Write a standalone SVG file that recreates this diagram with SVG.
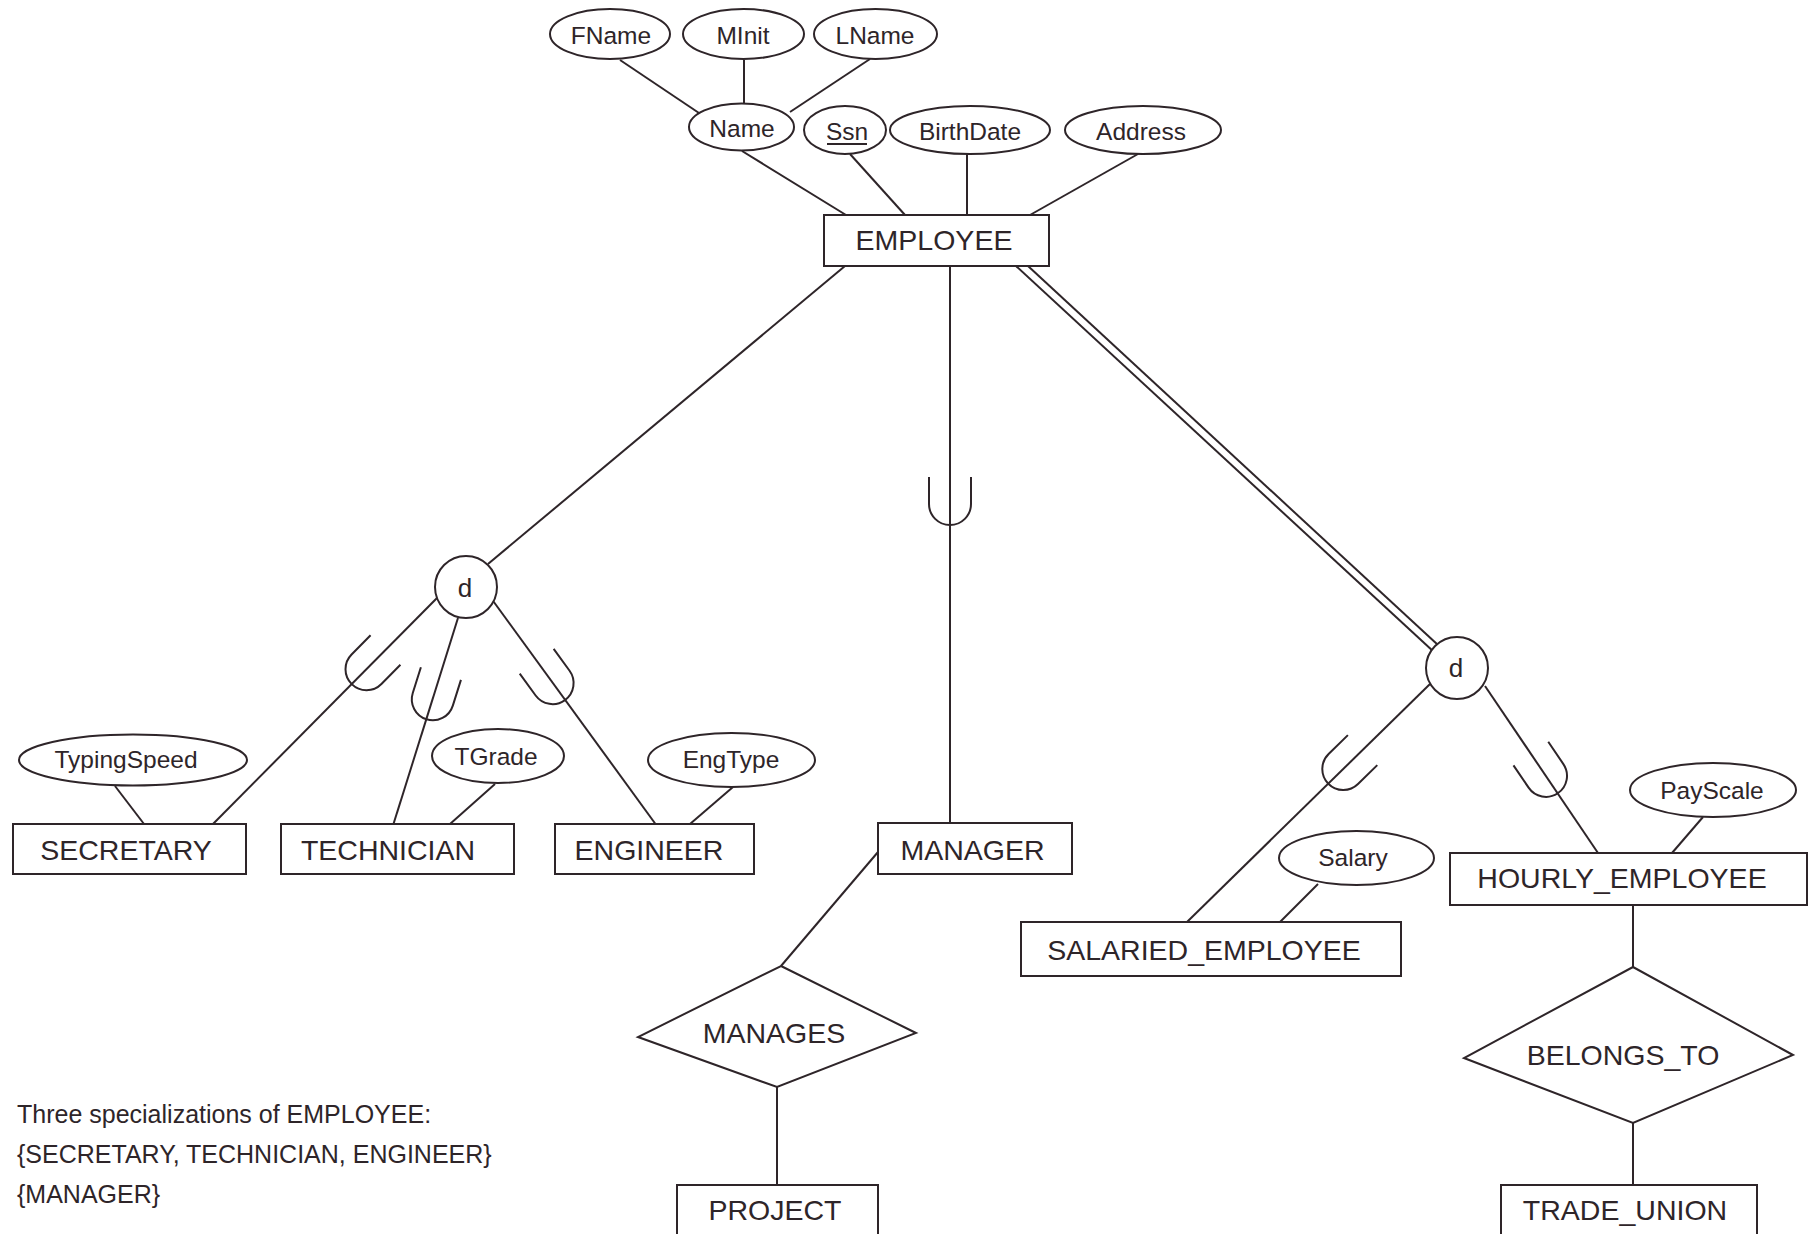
<svg xmlns="http://www.w3.org/2000/svg" xmlns:xlink="http://www.w3.org/1999/xlink" width="1813" height="1234" viewBox="0 0 1813 1234">
  <style>
    .ln { stroke: #2e2529; stroke-width: 2; fill: none; }
    .shape { stroke: #2e2529; stroke-width: 2; fill: #ffffff; }
    .ent { font-family: "Liberation Sans", Arial, sans-serif; font-size: 28.5px; fill: #2e2529; text-anchor: middle; }
    .att { font-family: "Liberation Sans", Arial, sans-serif; font-size: 24.5px; fill: #2e2529; text-anchor: middle; }
    .note { font-family: "Liberation Sans", Arial, sans-serif; font-size: 25px; fill: #2e2529; }
  </style>
  <defs>
    <!-- subset symbol: opens toward the superclass (local -y) -->
    <path id="subset" class="ln" d="M -21 -27 L -21 0 A 21 21 0 0 0 21 0 L 21 -27"/>
  </defs>
  <rect width="1813" height="1234" fill="#ffffff"/>

  <g id="connectors">
    <!-- composite attribute Name -->
    <line class="ln" x1="620" y1="60" x2="699" y2="113"/>
    <line class="ln" x1="744" y1="60" x2="744" y2="104"/>
    <line class="ln" x1="870" y1="59" x2="790" y2="112"/>
    <!-- EMPLOYEE attributes -->
    <line class="ln" x1="742" y1="151" x2="846" y2="215"/>
    <line class="ln" x1="850" y1="154" x2="905" y2="215"/>
    <line class="ln" x1="967" y1="154" x2="967" y2="215"/>
    <line class="ln" x1="1138" y1="154" x2="1030" y2="215"/>
    <!-- EMPLOYEE to specializations -->
    <line class="ln" x1="845" y1="266" x2="488" y2="564"/>
    <line class="ln" x1="950" y1="266" x2="950" y2="823"/>
    <line class="ln" x1="1016" y1="266" x2="1431.8" y2="650.1"/>
    <line class="ln" x1="1028" y1="266" x2="1437.2" y2="644.3"/>
    <!-- d1 to subclasses -->
    <line class="ln" x1="437" y1="598" x2="213" y2="824"/>
    <line class="ln" x1="458" y1="618" x2="393.5" y2="824"/>
    <line class="ln" x1="493.5" y1="601.5" x2="655.5" y2="824"/>
    <!-- d2 to subclasses -->
    <line class="ln" x1="1430" y1="684" x2="1187" y2="922"/>
    <line class="ln" x1="1485" y1="686" x2="1598" y2="853"/>
    <!-- subclass attributes -->
    <line class="ln" x1="115" y1="786" x2="144" y2="824"/>
    <line class="ln" x1="495" y1="784" x2="450" y2="824"/>
    <line class="ln" x1="733" y1="787" x2="690" y2="824"/>
    <line class="ln" x1="1318" y1="884" x2="1280" y2="922"/>
    <line class="ln" x1="1703" y1="817" x2="1672" y2="853"/>
    <!-- relationships -->
    <line class="ln" x1="878" y1="852" x2="781" y2="966"/>
    <line class="ln" x1="777" y1="1087" x2="777" y2="1185"/>
    <line class="ln" x1="1633" y1="905" x2="1633" y2="967"/>
    <line class="ln" x1="1633" y1="1123" x2="1633" y2="1185"/>
    <!-- subset marks -->
    <use xlink:href="#subset" transform="translate(950,504)"/>
    <use xlink:href="#subset" transform="translate(366.5,669.2) rotate(44.7)"/>
    <use xlink:href="#subset" transform="translate(432.8,699.3) rotate(17.5)"/>
    <use xlink:href="#subset" transform="translate(552.6,683.1) rotate(-36.1)"/>
    <use xlink:href="#subset" transform="translate(1343.3,769) rotate(45.6)"/>
    <use xlink:href="#subset" transform="translate(1546,775.9) rotate(-34.1)"/>
  </g>

  <g id="attr-fname"><ellipse class="shape" cx="610" cy="34" rx="60" ry="25"/><text class="att" x="611" y="44">FName</text></g>
  <g id="attr-minit"><ellipse class="shape" cx="743.5" cy="34" rx="60.5" ry="25"/><text class="att" x="743" y="44">MInit</text></g>
  <g id="attr-lname"><ellipse class="shape" cx="875.5" cy="34" rx="61.5" ry="25"/><text class="att" x="875" y="44">LName</text></g>
  <g id="attr-name"><ellipse class="shape" cx="741.5" cy="127" rx="52.5" ry="23.5"/><text class="att" x="742" y="137">Name</text></g>
  <g id="attr-ssn"><ellipse class="shape" cx="845" cy="130" rx="41" ry="24"/><text class="att" x="847" y="140">Ssn</text><line class="ln" x1="827" y1="144" x2="867" y2="144"/></g>
  <g id="attr-birthdate"><ellipse class="shape" cx="970" cy="130" rx="80" ry="24"/><text class="att" x="970" y="140">BirthDate</text></g>
  <g id="attr-address"><ellipse class="shape" cx="1143" cy="130" rx="78" ry="24"/><text class="att" x="1141" y="140">Address</text></g>

  <g id="employee"><rect class="shape" x="824" y="215" width="225" height="51"/><text class="ent" x="934" y="250">EMPLOYEE</text></g>

  <g id="disjoint-1"><circle class="shape" cx="466" cy="587" r="31"/><text class="ent" x="465" y="597" style="font-size:26px">d</text></g>
  <g id="disjoint-2"><circle class="shape" cx="1457" cy="668" r="31"/><text class="ent" x="1456" y="677" style="font-size:26px">d</text></g>

  <g id="attr-typingspeed"><ellipse class="shape" cx="133" cy="760" rx="114" ry="25.5"/><text class="att" x="126" y="768">TypingSpeed</text></g>
  <g id="attr-tgrade"><ellipse class="shape" cx="498" cy="756" rx="66" ry="27"/><text class="att" x="496" y="765">TGrade</text></g>
  <g id="attr-engtype"><ellipse class="shape" cx="731.5" cy="760" rx="83.5" ry="27"/><text class="att" x="731" y="768">EngType</text></g>
  <g id="attr-salary"><ellipse class="shape" cx="1356.5" cy="858" rx="77.5" ry="27"/><text class="att" x="1353" y="866">Salary</text></g>
  <g id="attr-payscale"><ellipse class="shape" cx="1713" cy="790" rx="83" ry="27"/><text class="att" x="1712" y="799">PayScale</text></g>

  <g id="secretary"><rect class="shape" x="13" y="824" width="233" height="50"/><text class="ent" x="126" y="860">SECRETARY</text></g>
  <g id="technician"><rect class="shape" x="281" y="824" width="233" height="50"/><text class="ent" x="388" y="860">TECHNICIAN</text></g>
  <g id="engineer"><rect class="shape" x="555" y="824" width="199" height="50"/><text class="ent" x="649" y="860">ENGINEER</text></g>
  <g id="manager"><rect class="shape" x="878" y="823" width="194" height="51"/><text class="ent" x="972.5" y="860">MANAGER</text></g>
  <g id="salaried-employee"><rect class="shape" x="1021" y="922" width="380" height="54"/><text class="ent" x="1204" y="960">SALARIED_EMPLOYEE</text></g>
  <g id="hourly-employee"><rect class="shape" x="1450" y="853" width="357" height="52"/><text class="ent" x="1622" y="888">HOURLY_EMPLOYEE</text></g>

  <g id="manages"><polygon class="shape" points="781,966 916,1033 777,1087 638,1037"/><text class="ent" x="774" y="1043">MANAGES</text></g>
  <g id="belongs-to"><polygon class="shape" points="1633,967 1793,1055 1633,1123 1464,1058"/><text class="ent" x="1623" y="1065">BELONGS_TO</text></g>

  <g id="project"><rect class="shape" x="677" y="1185" width="201" height="60"/><text class="ent" x="775" y="1220">PROJECT</text></g>
  <g id="trade-union"><rect class="shape" x="1501" y="1185" width="256" height="60"/><text class="ent" x="1625" y="1220">TRADE_UNION</text></g>

  <g id="caption">
    <text class="note" x="17" y="1123">Three specializations of EMPLOYEE:</text>
    <text class="note" x="17" y="1163">{SECRETARY, TECHNICIAN, ENGINEER}</text>
    <text class="note" x="17" y="1203">{MANAGER}</text>
  </g>
</svg>
